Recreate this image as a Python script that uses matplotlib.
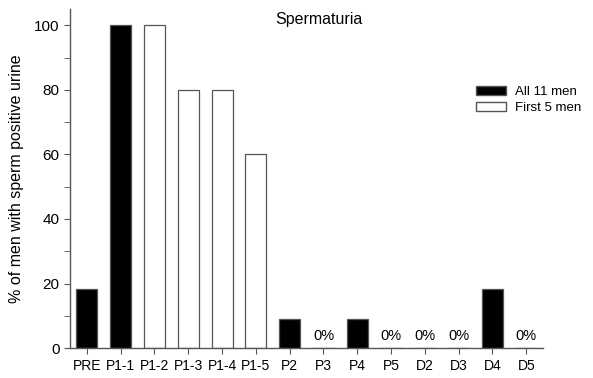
import matplotlib
matplotlib.use("Agg")
import matplotlib.pyplot as plt
from matplotlib.patches import Patch

categories = ["PRE", "P1-1", "P1-2", "P1-3", "P1-4", "P1-5", "P2", "P3", "P4", "P5", "D2", "D3", "D4", "D5"]
values = [18.2, 100, 100, 80, 80, 60, 9.1, 0, 9.1, 0, 0, 0, 18.2, 0]
groups = ["All 11 men", "All 11 men", "First 5 men", "First 5 men", "First 5 men", "First 5 men",
          "All 11 men", "All 11 men", "All 11 men", "All 11 men", "All 11 men", "All 11 men",
          "All 11 men", "All 11 men"]
group_colors = {"All 11 men": "black", "First 5 men": "white"}

plt.rcParams['font.family'] = ['Liberation Sans', 'DejaVu Sans']

fig = plt.figure(figsize=(5.93, 3.78), dpi=100)
ax = fig.add_axes([0.118, 0.079, 0.798, 0.897])

x = list(range(len(categories)))
colors = [group_colors[g] for g in groups]
ax.bar(x, values, width=0.62, color=colors, edgecolor="#555555", linewidth=0.9)

for xi, v in zip(x, values):
    if v == 0:
        ax.text(xi, 1.5, "0%", ha="center", va="bottom", fontsize=10.5)

ax.set_xlim(-0.5, 13.5)
ax.set_ylim(0, 105)
ax.set_xticks(x)
ax.set_xticklabels(categories, fontsize=10)
ax.set_yticks([0, 20, 40, 60, 80, 100])
ax.set_yticks([10, 30, 50, 70, 90], minor=True)
ax.tick_params(axis="y", labelsize=11, length=4, color="#555555")
ax.tick_params(axis="y", which="minor", length=4, color="#555555")
ax.tick_params(axis="x", length=4, color="#555555")
for s in ["top", "right"]:
    ax.spines[s].set_visible(False)
for s in ["left", "bottom"]:
    ax.spines[s].set_color("#555555")
    ax.spines[s].set_linewidth(1.0)

ax.set_ylabel("% of men with sperm positive urine", fontsize=11.5, labelpad=7)
ax.text(0.525, 0.97, "Spermaturia", transform=ax.transAxes, ha="center", va="center", fontsize=11.5)

handles = [Patch(facecolor=group_colors[g], edgecolor="#555555", label=g) for g in ["All 11 men", "First 5 men"]]
ax.legend(handles=handles, loc="upper right", bbox_to_anchor=(1.105, 0.808), frameon=False, fontsize=9.5,
          handlelength=2.2, handleheight=0.7, handletextpad=0.7, labelspacing=0.3)

fig.savefig("out.png", dpi=100)
